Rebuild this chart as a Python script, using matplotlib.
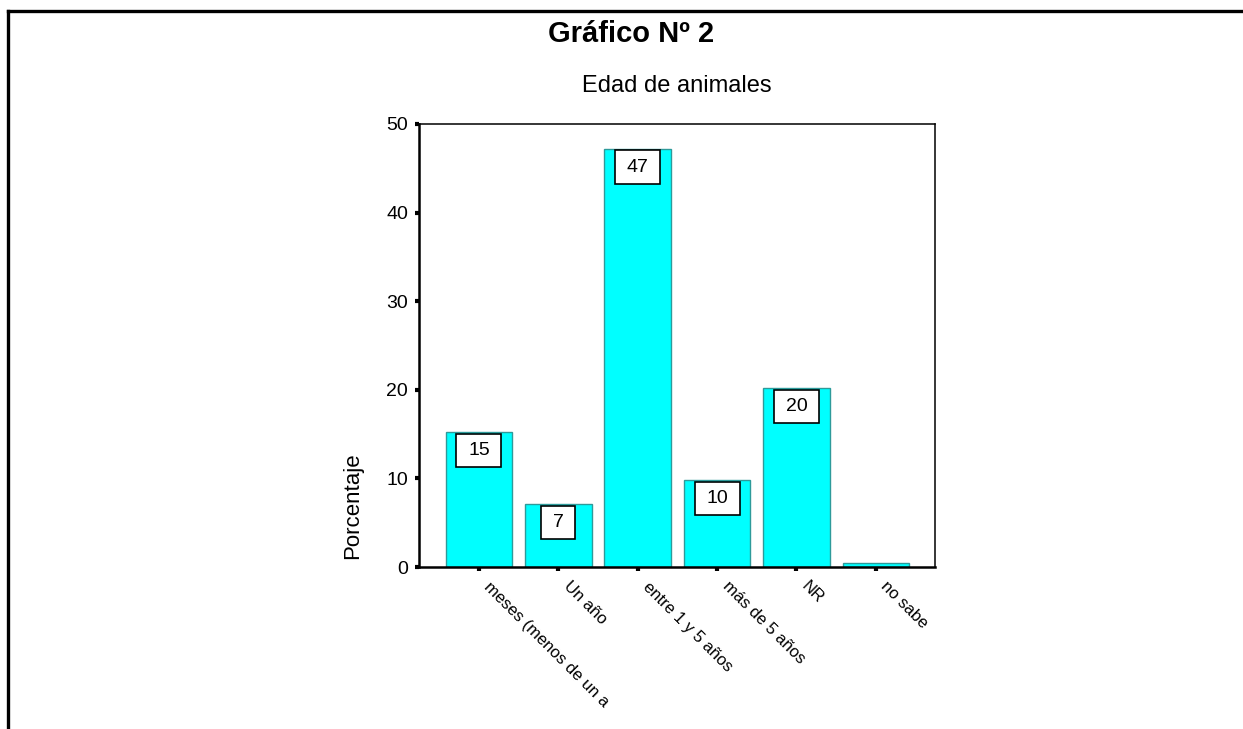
import matplotlib
matplotlib.use("Agg")
import matplotlib.pyplot as plt
from matplotlib.lines import Line2D
from matplotlib.path import Path
from matplotlib.transforms import ScaledTranslation

# Age distribution of animals (percent)
categories = ["meses (menos de un a", "Un año", "entre 1 y 5 años",
              "más de 5 años", "NR", "no sabe"]
percentages = [15.2, 7.1, 47.2, 9.8, 20.2, 0.5]
labelled = [True, True, True, True, True, False]
y_ticks = [0, 10, 20, 30, 40, 50]

plt.rcParams["font.family"] = ["Liberation Sans", "DejaVu Sans"]


def label_box(x0, y0, width, height, mutation_size):
    """Rectangle with more horizontal than vertical padding."""
    px = 0.6 * mutation_size
    py = 0.42 * mutation_size
    x0, y0 = x0 - px, y0 - py
    x1, y1 = x0 + width + 2 * px, y0 + height + 2 * py
    return Path([(x0, y0), (x1, y0), (x1, y1), (x0, y1), (x0, y0)],
                closed=True)


fig = plt.figure(figsize=(12.43, 7.29), dpi=100)
fig.patch.set_facecolor("white")

# outer frame (left and top edges)
fig.add_artist(Line2D([7.5 / 1243, 7.5 / 1243], [0, 1 - 10.5 / 729],
                      transform=fig.transFigure, color="black", lw=2.4,
                      solid_capstyle="projecting"))
fig.add_artist(Line2D([7.5 / 1243, 1], [1 - 10.5 / 729, 1 - 10.5 / 729],
                      transform=fig.transFigure, color="black", lw=2.4,
                      solid_capstyle="projecting"))

fig.text(0.5076, 1 - 42 / 729, "Gráfico Nº 2", ha="center", va="baseline",
         fontsize=21, fontweight="bold")
fig.text(677 / 1243, 1 - 92 / 729, "Edad de animales", ha="center",
         va="baseline", fontsize=17)

ax = fig.add_axes([419 / 1243, 1 - 567 / 729, 516 / 1243, 443 / 729])
x = list(range(len(categories)))
ax.bar(x, percentages, width=0.84, color="#00FFFF", edgecolor="#2E9A9A",
       linewidth=1.0, zorder=2)

for xi, v, show in zip(x, percentages, labelled):
    if not show:
        continue
    ax.annotate(f"{v:.0f}", xy=(xi, v), xytext=(0, -7.0),
                textcoords="offset points", ha="center", va="top",
                fontsize=14,
                bbox=dict(boxstyle=label_box, fc="white", ec="black",
                          lw=1.2), zorder=3)

ax.set_xlim(-0.755, 5.745)
ax.set_ylim(0, 50)
ax.set_yticks(y_ticks)
ax.set_yticklabels([str(t) for t in y_ticks], fontsize=14)
ax.set_xticks(x)
ax.set_xticklabels([])

# slanted category labels hanging from each tick
label_tf = ax.get_xaxis_transform() + ScaledTranslation(
    0.13, -0.12, fig.dpi_scale_trans)
for xi, name in zip(x, categories):
    ax.text(xi, 0, name, transform=label_tf, rotation=-45,
            rotation_mode="anchor", ha="left", va="top", fontsize=12)

ax.tick_params(axis="y", direction="out", length=3, width=3, pad=5)
ax.tick_params(axis="x", direction="out", length=3, width=3)

for side in ("left", "bottom"):
    ax.spines[side].set_linewidth(1.8)
for side in ("top", "right"):
    ax.spines[side].set_linewidth(1.1)

ax.set_ylabel("Porcentaje", fontsize=16)
ax.yaxis.set_label_coords(-0.108, 0.138)

fig.savefig("out.png", dpi=100, facecolor="white")
